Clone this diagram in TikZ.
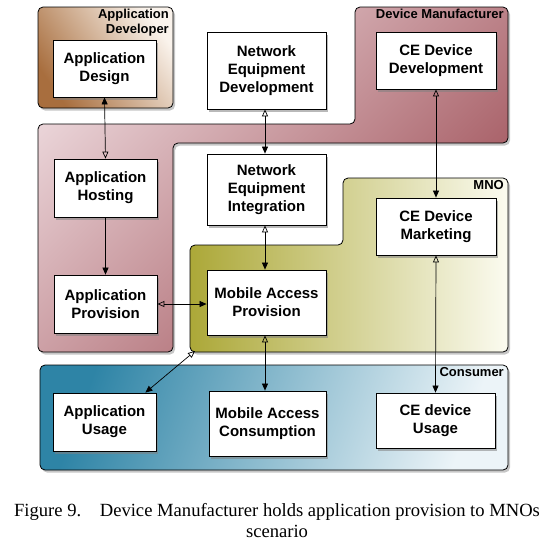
\documentclass[tikz,border=0pt]{standalone}
\usepackage{fontspec}
\setmainfont{Liberation Serif}
\setsansfont{Liberation Sans}
\usetikzlibrary{arrows.meta,shadows}

\definecolor{devdark}{RGB}{168,110,62}
\definecolor{devlight}{RGB}{250,243,236}
\definecolor{manlight}{RGB}{234,212,216}
\definecolor{mandark}{RGB}{158,78,86}
\definecolor{mnodark}{RGB}{172,168,56}
\definecolor{mnolight}{RGB}{251,251,240}
\definecolor{condark}{RGB}{46,132,166}
\definecolor{conlight}{RGB}{236,244,248}

\begin{document}
\begin{tikzpicture}[x=1pt,y=-1pt,
		box/.style={draw,fill=white,line width=0.8pt,inner sep=2pt,align=center,
			font=\sffamily\bfseries\fontsize{15}{18}\selectfont,
			drop shadow={opacity=0.55,shadow xshift=2pt,shadow yshift=-2.5pt}},
		area/.style={draw,line width=0.8pt,rounded corners=5pt,
			drop shadow={opacity=0.45,shadow xshift=2pt,shadow yshift=-2.5pt}},
		tag/.style={font=\sffamily\bfseries\fontsize{13}{15}\selectfont,align=right,inner sep=0pt,anchor=north east},
		link/.style={line width=0.7pt,{Triangle[open,width=6pt,length=7pt]}-{Triangle[width=6pt,length=7pt]}}]
		\useasboundingbox (0,0) rectangle (550,558);
		% stakeholder areas
		\shadedraw[area,left color=devdark,right color=devlight,shading angle=125] (38,7) rectangle (173,108);
		\shadedraw[area,left color=manlight,right color=mandark,shading angle=45] (38,124) -- (355,124) -- (355,7) -- (508,7) -- (508,143) -- (173,143) -- (173,352) -- (38,352) -- cycle;
		\shadedraw[area,left color=mnodark,right color=mnolight] (190,245) -- (343,245) -- (343,178) -- (508,178) -- (508,352) -- (190,352) -- cycle;
		\shadedraw[area,left color=condark,right color=conlight,shading angle=70] (40,365) rectangle (508,470);
		\coordinate (mnocorner) at (195,351);
		\node[tag] (tagdev) at (169,9) {Application\\Developer};
		\node[tag] (tagman) at (504,9) {Device Manufacturer};
		\node[tag] (tagmno) at (504,180) {MNO};
		\node[tag] (tagcon) at (504,367) {Consumer};
		% activities
		\node[box,minimum width=103pt,minimum height=57pt] (design) at (104.5,68.5) {Application\\Design};
		\node[box,minimum width=103pt,minimum height=58pt] (hosting) at (105.5,188) {Application\\Hosting};
		\node[box,minimum width=103pt,minimum height=58pt] (aprov) at (105.5,304) {Application\\Provision};
		\node[box,minimum width=119pt,minimum height=77pt] (nedev) at (266.5,70.5) {Network\\Equipment\\Development};
		\node[box,minimum width=119pt,minimum height=71pt] (neint) at (266.5,189.5) {Network\\Equipment\\Integration};
		\node[box,minimum width=119pt,minimum height=65pt] (map) at (266.5,302.5) {Mobile Access\\Provision};
		\node[box,minimum width=120pt,minimum height=57pt] (cedev) at (436,60.5) {CE Device\\Development};
		\node[box,minimum width=120pt,minimum height=57pt] (cemkt) at (436,226.5) {CE Device\\Marketing};
		\node[box,minimum width=103pt,minimum height=58pt] (ausage) at (104.5,422) {Application\\Usage};
		\node[box,minimum width=117pt,minimum height=65pt] (macons) at (267.5,423.5) {Mobile Access\\Consumption};
		\node[box,minimum width=119pt,minimum height=55pt] (ceusage) at (435.5,420.5) {CE device\\Usage};
		% relations
		\draw[link] (hosting.north) -- (design.south);
		\draw[line width=0.7pt,-{Triangle[width=6pt,length=7pt]}] (hosting.south) -- (aprov.north);
		\draw[link] ([xshift=-1.5pt]nedev.south) -- ([xshift=-1.5pt]neint.north);
		\draw[link] ([xshift=-1.5pt]neint.south) -- ([xshift=-1.5pt]map.north);
		\draw[link] (cedev.south) -- (cemkt.north);
		\draw[link] (cemkt.south) -- (ceusage.north);
		\draw[link] (aprov.east) -- (aprov.east -| map.west);
		\draw[link] ([xshift=-1.5pt]map.south) -- ([xshift=-1.5pt]map.south |- macons.north);
		\draw[link] (mnocorner) -- ([xshift=-11pt]ausage.north east);
		% caption
		\node[font=\fontsize{18.6}{21}\selectfont,align=center,inner sep=0pt,anchor=north] (caption) at (277,503) {Figure 9.\quad Device Manufacturer holds application provision to MNOs\\scenario};
	\end{tikzpicture}
\end{document}
